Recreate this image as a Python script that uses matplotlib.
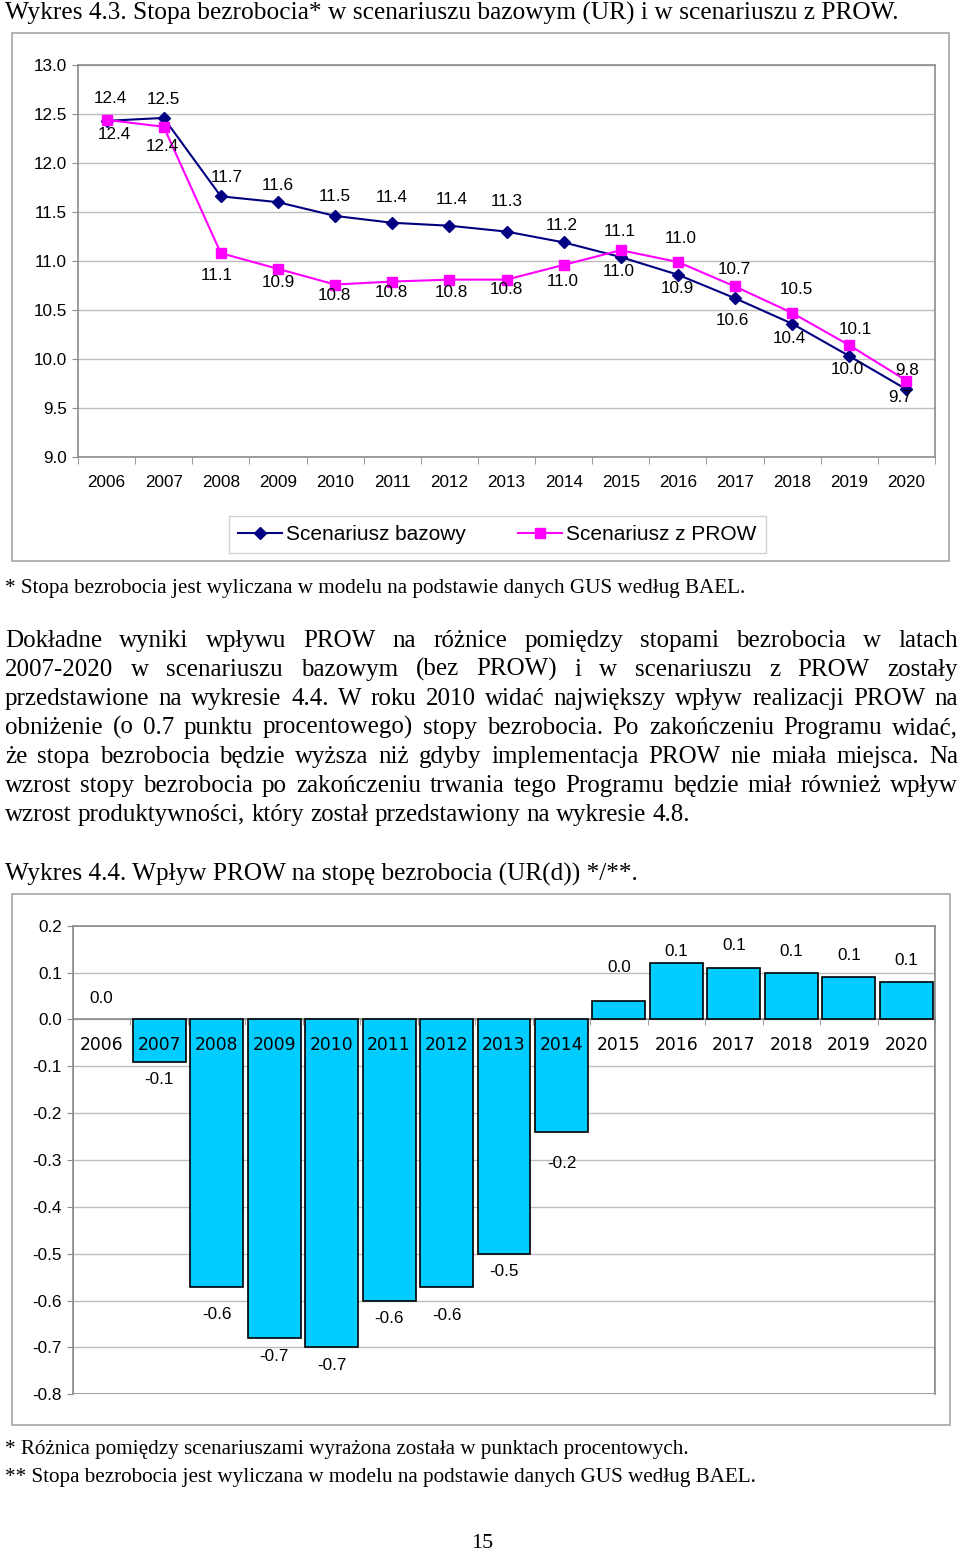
import matplotlib
matplotlib.use("Agg")
import numpy as np
import matplotlib.pyplot as plt
from matplotlib.patches import Rectangle
from matplotlib.lines import Line2D
from matplotlib.ticker import MultipleLocator, FixedLocator, FormatStrFormatter

plt.rcParams['axes.unicode_minus'] = False

# data
years = [str(y) for y in range(2006, 2021)]
base_rate = [12.43, 12.46, 11.66, 11.60, 11.46, 11.39, 11.36, 11.30, 11.19,
             11.04, 10.86, 10.62, 10.36, 10.03, 9.69]
prow_rate = [12.44, 12.37, 11.08, 10.92, 10.76, 10.79, 10.81, 10.81, 10.96,
             11.11, 10.99, 10.74, 10.47, 10.14, 9.78]
diff = [0.0, -0.09, -0.57, -0.68, -0.70, -0.60, -0.57, -0.50, -0.24,
        0.04, 0.12, 0.11, 0.10, 0.09, 0.08]

# label offsets in pixels (dx, dy down)
base_dx = [4, 0, 6, 0, 0, 0, 2, 0, -2, -2, -1, -3, -3, -2, -6]
base_dy = [-22, -18, -19, -17, -19, -25, -26, -30, -17, 14, 14, 22, 15, 13, 8]
prow_dx = [8, -1, -4, 0, -1, -1, 2, 0, -1, -1, 3, -1, 4, 6, 1]
prow_dy = [15, 20, 22, 14, 11, 11, 13, 10, 17, -19, -23, -17, -23, -16, -10]
bar_dy = [-21, 18, 28, 18, 18, 18, 29, 18, 32, -33, -12, -22, -21, -22, -21]

W, H = 960, 1550
SANS = 'Liberation Sans'
SERIF = 'Liberation Serif'
GRAY = '#8c8c8c'
GRID = '#bdbdbd'


def fx(x):
    return x / W


def fy(y):
    return 1 - y / H


def add_axes(x0, y0, x1, y1):
    return fig.add_axes([fx(x0), fy(y1), (x1 - x0) / W, (y1 - y0) / H])


def frame(x0, y0, x1, y1, color='#a6a6a6'):
    fig.add_artist(Rectangle((fx(x0), fy(y1)), (x1 - x0) / W, (y1 - y0) / H,
                             transform=fig.transFigure, fill=False,
                             edgecolor=color, linewidth=1.2))


fig = plt.figure(figsize=(W / 100, H / 100), dpi=100)
r = fig.canvas.get_renderer()


def fit_text(s, x, y, width, size0=16):
    t = fig.text(fx(x), fy(y), s, family=SERIF, fontsize=size0, va='baseline')
    w = t.get_window_extent(r).width
    t.set_fontsize(size0 * width / w)
    return t


# ---------- chart 4.3 ----------
fit_text("Wykres 4.3. Stopa bezrobocia* w scenariuszu bazowym (UR) i w scenariuszu z PROW.",
         5, 20, 895)
frame(12, 33, 949, 561)

ax = add_axes(78, 65, 935, 457)
x = np.arange(len(years))
ax.plot(x, base_rate, color='#000080', lw=1.5, marker='D', ms=6.5,
        label='Scenariusz bazowy', zorder=3)
ax.plot(x, prow_rate, color='#ff00ff', lw=1.5, marker='s', ms=6.5,
        label='Scenariusz z PROW', zorder=3)
for i in range(len(years)):
    ax.annotate(f'{base_rate[i]:.1f}', (x[i], base_rate[i]),
                xytext=(base_dx[i] * 0.72, -base_dy[i] * 0.72),
                textcoords='offset points', ha='center', va='center',
                fontsize=12.3, family=SANS)
    ax.annotate(f'{prow_rate[i]:.1f}', (x[i], prow_rate[i]),
                xytext=(prow_dx[i] * 0.72, -prow_dy[i] * 0.72),
                textcoords='offset points', ha='center', va='center',
                fontsize=12.3, family=SANS)
ax.set_xlim(-0.5, len(years) - 0.5)
ax.set_ylim(9, 13)
ax.yaxis.set_major_locator(MultipleLocator(0.5))
ax.yaxis.set_major_formatter(FormatStrFormatter('%.1f'))
ax.set_xticks(x)
ax.set_xticklabels(years)
ax.xaxis.set_minor_locator(FixedLocator(np.arange(-0.5, len(years), 1)))
ax.tick_params(axis='x', which='major', length=0, pad=13, labelsize=12.3)
ax.tick_params(axis='x', which='minor', length=5, color=GRAY)
ax.tick_params(axis='y', length=4, color=GRAY, pad=4, labelsize=12.3)
for lab in ax.get_xticklabels() + ax.get_yticklabels():
    lab.set_family(SANS)
ax.grid(axis='y', color=GRID, lw=1)
ax.set_axisbelow(True)
for sp in ax.spines.values():
    sp.set_color(GRAY)
    sp.set_linewidth(1.2)

handles = [Line2D([], [], color='#000080', lw=1.5, marker='D', ms=6),
           Line2D([], [], color='#ff00ff', lw=1.5, marker='s', ms=6.5)]
leg = fig.legend(handles, ['Scenariusz bazowy', 'Scenariusz z PROW'],
                 loc='center', bbox_to_anchor=(fx(497.5), fy(534.5)), ncol=2,
                 frameon=True, fancybox=False, edgecolor='#c8c8c8',
                 prop={'family': SANS, 'size': 15}, handlelength=2.1,
                 handletextpad=0.2, columnspacing=2.5, borderpad=0.45,
                 borderaxespad=0)
leg.get_frame().set_linewidth(1.0)

fit_text("* Stopa bezrobocia jest wyliczana w modelu na podstawie danych GUS według BAEL.",
         5, 593, 740)

# ---------- paragraph ----------
para = [
    "Dokładne wyniki wpływu PROW na różnice pomiędzy stopami bezrobocia w latach",
    "2007-2020 w scenariuszu bazowym (bez PROW) i w scenariuszu z PROW zostały",
    "przedstawione na wykresie 4.4. W roku 2010 widać największy wpływ realizacji PROW na",
    "obniżenie (o 0.7 punktu procentowego) stopy bezrobocia. Po zakończeniu Programu widać,",
    "że stopa bezrobocia będzie wyższa niż gdyby implementacja PROW nie miała miejsca. Na",
    "wzrost stopy bezrobocia po zakończeniu trwania tego Programu będzie miał również wpływ",
    "wzrost produktywności, który został przedstawiony na wykresie 4.8.",
]
probe = fig.text(0, 0, para[2], family=SERIF, fontsize=20)
psize = min(18, 20 * 940 / probe.get_window_extent(r).width)
probe.remove()

for k, line in enumerate(para):
    yb = 647 + 29 * k
    words = line.split()
    texts = [fig.text(0, fy(yb), w_, family=SERIF, fontsize=psize, va='baseline')
             for w_ in words]
    widths = [t.get_window_extent(r).width for t in texts]
    if k == len(para) - 1:
        gap = fig.text(0, 0, 'a a', family=SERIF, fontsize=psize)
        sp = gap.get_window_extent(r).width
        gap.remove()
        a = fig.text(0, 0, 'aa', family=SERIF, fontsize=psize)
        sp -= a.get_window_extent(r).width
        a.remove()
    else:
        sp = (958 - 5 - sum(widths)) / (len(words) - 1)
    xp = 5
    for t, w_ in zip(texts, widths):
        t.set_x(fx(xp))
        xp += w_ + sp

# ---------- chart 4.4 ----------
fit_text("Wykres 4.4. Wpływ PROW na stopę bezrobocia (UR(d)) */**.", 5, 881, 635)
frame(12, 894, 950, 1425)

bx = add_axes(73, 925.7, 935, 1394.3)
edge_w = [0 if v == 0 else 1.2 for v in diff]
bx.bar(x, diff, width=0.92, color='#00ccff', edgecolor='black', lw=edge_w, zorder=1)
for i in range(len(years)):
    bx.annotate(f'{diff[i]:.1f}', (x[i], diff[i]),
                xytext=(0, -bar_dy[i] * 0.72), textcoords='offset points',
                ha='center', va='center', fontsize=12.3, family=SANS)
bx.set_xlim(-0.5, len(years) - 0.5)
bx.set_ylim(-0.8, 0.2)
bx.yaxis.set_major_locator(MultipleLocator(0.1))
bx.yaxis.set_major_formatter(FormatStrFormatter('%.1f'))
for yv in np.arange(-0.7, 0.15, 0.1):
    bx.axhline(yv, color=GRID, lw=1, zorder=0.5)
bx.set_xticks(x)
bx.set_xticklabels(years)
bx.xaxis.set_minor_locator(FixedLocator(np.arange(-0.5, len(years), 1)))
bx.tick_params(axis='x', which='major', length=0, pad=12, labelsize=12.3)
bx.tick_params(axis='x', which='minor', length=4, color=GRAY)
bx.tick_params(axis='y', length=4, color=GRAY, pad=4, labelsize=12.3)
for lab in bx.get_xticklabels() + bx.get_yticklabels():
    lab.set_family(SANS)
for sp_ in bx.spines.values():
    sp_.set_color(GRAY)
    sp_.set_linewidth(1.2)
bx.spines['bottom'].set_position(('data', 0))
bx.spines['bottom'].set_zorder(0.8)
bx.add_patch(Rectangle((0, 0), 1, 1, transform=bx.transAxes, fill=False,
                       edgecolor=GRAY, lw=1.2, zorder=0.6))

fit_text("* Różnica pomiędzy scenariuszami wyrażona została w punktach procentowych.",
         5, 1454, 683)
fit_text("** Stopa bezrobocia jest wyliczana w modelu na podstawie danych GUS według BAEL.",
         5, 1482, 750)
fig.text(fx(482), fy(1548), "15", family=SERIF, fontsize=16, ha='center', va='baseline')

fig.savefig("out.png", dpi=100)
